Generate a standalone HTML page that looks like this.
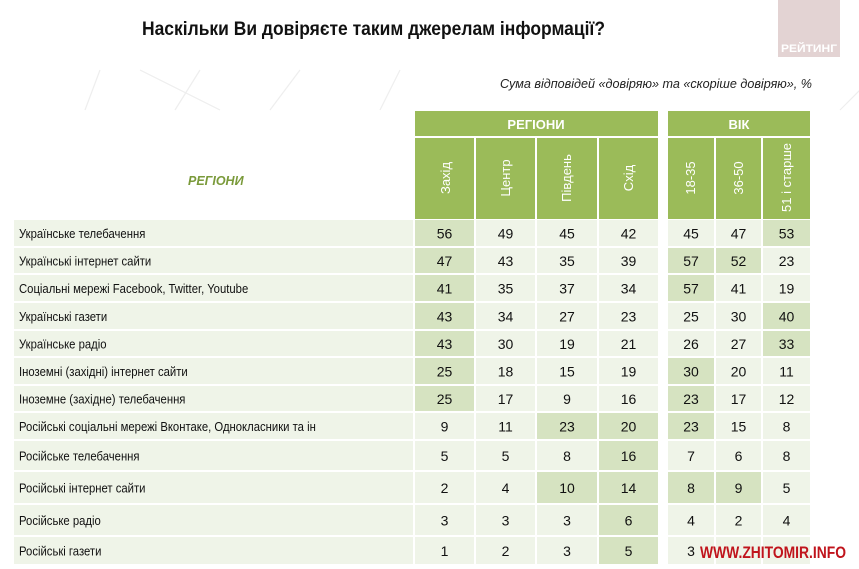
<!DOCTYPE html>
<html><head><meta charset="utf-8"><style>
html,body{margin:0;padding:0;background:#fff;}
svg{display:block;font-family:"Liberation Sans",sans-serif;}
.l{fill:#eff4e8}.d{fill:#d6e3c1}
.n{font-size:14px;fill:#111;text-anchor:middle}
.t{font-size:13px;fill:#111}
</style></head><body>
<svg width="859" height="569" viewBox="0 0 859 569" xmlns="http://www.w3.org/2000/svg">
<defs>
<g id="bg">
<rect x="14" y="0" width="399" height="40" class="l"/>
</g>
</defs>
<rect width="859" height="569" fill="#fff"/>
<g stroke="#eeeeee" stroke-width="1.2" fill="none">
<line x1="85" y1="110" x2="100" y2="70"/><line x1="175" y1="110" x2="200" y2="70"/><line x1="270" y1="110" x2="300" y2="70"/>
<line x1="140" y1="70" x2="220" y2="110"/><line x1="380" y1="110" x2="400" y2="70"/><line x1="840" y1="110" x2="860" y2="90"/>
</g>
<text x="142" y="35" font-size="19.5" font-weight="bold" fill="#111" textLength="463" lengthAdjust="spacingAndGlyphs">Наскільки Ви довіряєте таким джерелам інформації?</text>
<rect x="778" y="0" width="62" height="57" fill="#e3d3d3"/>
<text x="809" y="52" font-size="11" font-weight="bold" fill="#fff" text-anchor="middle" textLength="56" lengthAdjust="spacingAndGlyphs">РЕЙТИНГ</text>
<text x="812" y="88" font-size="13" font-style="italic" fill="#222" text-anchor="end" textLength="312" lengthAdjust="spacingAndGlyphs">Сума відповідей «довіряю» та «скоріше довіряю», %</text>

<rect x="415" y="111" width="243" height="25" fill="#9bbb59"/>
<rect x="668" y="111" width="142" height="25" fill="#9bbb59"/>
<text x="536" y="129" font-size="13" font-weight="bold" fill="#fff" text-anchor="middle">РЕГІОНИ</text>
<text x="739" y="129" font-size="13" font-weight="bold" fill="#fff" text-anchor="middle">ВІК</text>
<g fill="#9bbb59">
<rect x="415" y="138" width="59" height="81"/><rect x="476" y="138" width="59" height="81"/>
<rect x="537" y="138" width="60" height="81"/><rect x="599" y="138" width="59" height="81"/>
<rect x="668" y="138" width="46" height="81"/><rect x="716" y="138" width="45" height="81"/><rect x="763" y="138" width="47" height="81"/>
</g>
<g fill="#fff" font-size="13">
<text transform="translate(450,178) rotate(-90)" text-anchor="middle">Захід</text>
<text transform="translate(510,178) rotate(-90)" text-anchor="middle">Центр</text>
<text transform="translate(571,178) rotate(-90)" text-anchor="middle">Південь</text>
<text transform="translate(633,178) rotate(-90)" text-anchor="middle">Схід</text>
<text transform="translate(695,178) rotate(-90)" text-anchor="middle">18-35</text>
<text transform="translate(743,178) rotate(-90)" text-anchor="middle">36-50</text>
<text transform="translate(791,212) rotate(-90)">51 і старше</text>
</g>
<text x="188" y="185" font-size="12.5" font-weight="bold" font-style="italic" fill="#7a9a3a">РЕГІОНИ</text>

<!-- row 0 -->
<g transform="translate(0,220)">
<rect x="14" width="399" height="26" class="l"/>
<rect x="415" width="59" height="26" class="d"/><rect x="476" width="59" height="26" class="l"/><rect x="537" width="60" height="26" class="l"/><rect x="599" width="59" height="26" class="l"/>
<rect x="668" width="46" height="26" class="l"/><rect x="716" width="45" height="26" class="l"/><rect x="763" width="47" height="26" class="d"/>
<text class="t" transform="translate(19,18) scale(0.87,1)">Українське телебачення</text>
<text class="n" x="444.5" y="18.5">56</text><text class="n" x="505.5" y="18.5">49</text><text class="n" x="567" y="18.5">45</text><text class="n" x="628.5" y="18.5">42</text><text class="n" x="691" y="18.5">45</text><text class="n" x="738.5" y="18.5">47</text><text class="n" x="786.5" y="18.5">53</text>
</g>
<!-- row 1 -->
<g transform="translate(0,248)">
<rect x="14" width="399" height="25" class="l"/>
<rect x="415" width="59" height="25" class="d"/><rect x="476" width="59" height="25" class="l"/><rect x="537" width="60" height="25" class="l"/><rect x="599" width="59" height="25" class="l"/>
<rect x="668" width="46" height="25" class="d"/><rect x="716" width="45" height="25" class="d"/><rect x="763" width="47" height="25" class="l"/>
<text class="t" transform="translate(19,17.5) scale(0.87,1)">Українські інтернет сайти</text>
<text class="n" x="444.5" y="18">47</text><text class="n" x="505.5" y="18">43</text><text class="n" x="567" y="18">35</text><text class="n" x="628.5" y="18">39</text><text class="n" x="691" y="18">57</text><text class="n" x="738.5" y="18">52</text><text class="n" x="786.5" y="18">23</text>
</g>
<!-- row 2 -->
<g transform="translate(0,275)">
<rect x="14" width="399" height="26" class="l"/>
<rect x="415" width="59" height="26" class="d"/><rect x="476" width="59" height="26" class="l"/><rect x="537" width="60" height="26" class="l"/><rect x="599" width="59" height="26" class="l"/>
<rect x="668" width="46" height="26" class="d"/><rect x="716" width="45" height="26" class="l"/><rect x="763" width="47" height="26" class="l"/>
<text class="t" transform="translate(19,18) scale(0.87,1)">Соціальні мережі Facebook, Twitter, Youtube</text>
<text class="n" x="444.5" y="18.5">41</text><text class="n" x="505.5" y="18.5">35</text><text class="n" x="567" y="18.5">37</text><text class="n" x="628.5" y="18.5">34</text><text class="n" x="691" y="18.5">57</text><text class="n" x="738.5" y="18.5">41</text><text class="n" x="786.5" y="18.5">19</text>
</g>
<!-- row 3 -->
<g transform="translate(0,303)">
<rect x="14" width="399" height="26" class="l"/>
<rect x="415" width="59" height="26" class="d"/><rect x="476" width="59" height="26" class="l"/><rect x="537" width="60" height="26" class="l"/><rect x="599" width="59" height="26" class="l"/>
<rect x="668" width="46" height="26" class="l"/><rect x="716" width="45" height="26" class="l"/><rect x="763" width="47" height="26" class="d"/>
<text class="t" transform="translate(19,18) scale(0.87,1)">Українські газети</text>
<text class="n" x="444.5" y="18.5">43</text><text class="n" x="505.5" y="18.5">34</text><text class="n" x="567" y="18.5">27</text><text class="n" x="628.5" y="18.5">23</text><text class="n" x="691" y="18.5">25</text><text class="n" x="738.5" y="18.5">30</text><text class="n" x="786.5" y="18.5">40</text>
</g>
<!-- row 4 -->
<g transform="translate(0,331)">
<rect x="14" width="399" height="25" class="l"/>
<rect x="415" width="59" height="25" class="d"/><rect x="476" width="59" height="25" class="l"/><rect x="537" width="60" height="25" class="l"/><rect x="599" width="59" height="25" class="l"/>
<rect x="668" width="46" height="25" class="l"/><rect x="716" width="45" height="25" class="l"/><rect x="763" width="47" height="25" class="d"/>
<text class="t" transform="translate(19,17.5) scale(0.87,1)">Українське радіо</text>
<text class="n" x="444.5" y="18">43</text><text class="n" x="505.5" y="18">30</text><text class="n" x="567" y="18">19</text><text class="n" x="628.5" y="18">21</text><text class="n" x="691" y="18">26</text><text class="n" x="738.5" y="18">27</text><text class="n" x="786.5" y="18">33</text>
</g>
<!-- row 5 -->
<g transform="translate(0,358)">
<rect x="14" width="399" height="26" class="l"/>
<rect x="415" width="59" height="26" class="d"/><rect x="476" width="59" height="26" class="l"/><rect x="537" width="60" height="26" class="l"/><rect x="599" width="59" height="26" class="l"/>
<rect x="668" width="46" height="26" class="d"/><rect x="716" width="45" height="26" class="l"/><rect x="763" width="47" height="26" class="l"/>
<text class="t" transform="translate(19,18) scale(0.87,1)">Іноземні (західні) інтернет сайти</text>
<text class="n" x="444.5" y="18.5">25</text><text class="n" x="505.5" y="18.5">18</text><text class="n" x="567" y="18.5">15</text><text class="n" x="628.5" y="18.5">19</text><text class="n" x="691" y="18.5">30</text><text class="n" x="738.5" y="18.5">20</text><text class="n" x="786.5" y="18.5">11</text>
</g>
<!-- row 6 -->
<g transform="translate(0,386)">
<rect x="14" width="399" height="25" class="l"/>
<rect x="415" width="59" height="25" class="d"/><rect x="476" width="59" height="25" class="l"/><rect x="537" width="60" height="25" class="l"/><rect x="599" width="59" height="25" class="l"/>
<rect x="668" width="46" height="25" class="d"/><rect x="716" width="45" height="25" class="l"/><rect x="763" width="47" height="25" class="l"/>
<text class="t" transform="translate(19,17.5) scale(0.87,1)">Іноземне (західне) телебачення</text>
<text class="n" x="444.5" y="18">25</text><text class="n" x="505.5" y="18">17</text><text class="n" x="567" y="18">9</text><text class="n" x="628.5" y="18">16</text><text class="n" x="691" y="18">23</text><text class="n" x="738.5" y="18">17</text><text class="n" x="786.5" y="18">12</text>
</g>
<!-- row 7 -->
<g transform="translate(0,413)">
<rect x="14" width="399" height="26" class="l"/>
<rect x="415" width="59" height="26" class="l"/><rect x="476" width="59" height="26" class="l"/><rect x="537" width="60" height="26" class="d"/><rect x="599" width="59" height="26" class="d"/>
<rect x="668" width="46" height="26" class="d"/><rect x="716" width="45" height="26" class="l"/><rect x="763" width="47" height="26" class="l"/>
<text class="t" transform="translate(19,18) scale(0.87,1)">Російські соціальні мережі Вконтаке, Однокласники та ін</text>
<text class="n" x="444.5" y="18.5">9</text><text class="n" x="505.5" y="18.5">11</text><text class="n" x="567" y="18.5">23</text><text class="n" x="628.5" y="18.5">20</text><text class="n" x="691" y="18.5">23</text><text class="n" x="738.5" y="18.5">15</text><text class="n" x="786.5" y="18.5">8</text>
</g>
<!-- row 8 -->
<g transform="translate(0,441)">
<rect x="14" width="399" height="29" class="l"/>
<rect x="415" width="59" height="29" class="l"/><rect x="476" width="59" height="29" class="l"/><rect x="537" width="60" height="29" class="l"/><rect x="599" width="59" height="29" class="d"/>
<rect x="668" width="46" height="29" class="l"/><rect x="716" width="45" height="29" class="l"/><rect x="763" width="47" height="29" class="l"/>
<text class="t" transform="translate(19,19.5) scale(0.87,1)">Російське телебачення</text>
<text class="n" x="444.5" y="20">5</text><text class="n" x="505.5" y="20">5</text><text class="n" x="567" y="20">8</text><text class="n" x="628.5" y="20">16</text><text class="n" x="691" y="20">7</text><text class="n" x="738.5" y="20">6</text><text class="n" x="786.5" y="20">8</text>
</g>
<!-- row 9 -->
<g transform="translate(0,472)">
<rect x="14" width="399" height="31" class="l"/>
<rect x="415" width="59" height="31" class="l"/><rect x="476" width="59" height="31" class="l"/><rect x="537" width="60" height="31" class="d"/><rect x="599" width="59" height="31" class="d"/>
<rect x="668" width="46" height="31" class="d"/><rect x="716" width="45" height="31" class="d"/><rect x="763" width="47" height="31" class="l"/>
<text class="t" transform="translate(19,20.5) scale(0.87,1)">Російські інтернет сайти</text>
<text class="n" x="444.5" y="21">2</text><text class="n" x="505.5" y="21">4</text><text class="n" x="567" y="21">10</text><text class="n" x="628.5" y="21">14</text><text class="n" x="691" y="21">8</text><text class="n" x="738.5" y="21">9</text><text class="n" x="786.5" y="21">5</text>
</g>
<!-- row 10 -->
<g transform="translate(0,505)">
<rect x="14" width="399" height="30" class="l"/>
<rect x="415" width="59" height="30" class="l"/><rect x="476" width="59" height="30" class="l"/><rect x="537" width="60" height="30" class="l"/><rect x="599" width="59" height="30" class="d"/>
<rect x="668" width="46" height="30" class="l"/><rect x="716" width="45" height="30" class="l"/><rect x="763" width="47" height="30" class="l"/>
<text class="t" transform="translate(19,20) scale(0.87,1)">Російське радіо</text>
<text class="n" x="444.5" y="20.5">3</text><text class="n" x="505.5" y="20.5">3</text><text class="n" x="567" y="20.5">3</text><text class="n" x="628.5" y="20.5">6</text><text class="n" x="691" y="20.5">4</text><text class="n" x="738.5" y="20.5">2</text><text class="n" x="786.5" y="20.5">4</text>
</g>
<!-- row 11 -->
<g transform="translate(0,537)">
<rect x="14" width="399" height="27" class="l"/>
<rect x="415" width="59" height="27" class="l"/><rect x="476" width="59" height="27" class="l"/><rect x="537" width="60" height="27" class="l"/><rect x="599" width="59" height="27" class="d"/>
<rect x="668" width="46" height="27" class="l"/><rect x="716" width="45" height="27" class="l"/><rect x="763" width="47" height="27" class="l"/>
<text class="t" transform="translate(19,18.5) scale(0.87,1)">Російські газети</text>
<text class="n" x="444.5" y="19">1</text><text class="n" x="505.5" y="19">2</text><text class="n" x="567" y="19">3</text><text class="n" x="628.5" y="19">5</text><text class="n" x="691" y="19">3</text>
</g>

<text x="846" y="558" font-size="17" font-weight="bold" fill="#c0141c" text-anchor="end" textLength="146" lengthAdjust="spacingAndGlyphs">WWW.ZHITOMIR.INFO</text>
</svg>
</body></html>
